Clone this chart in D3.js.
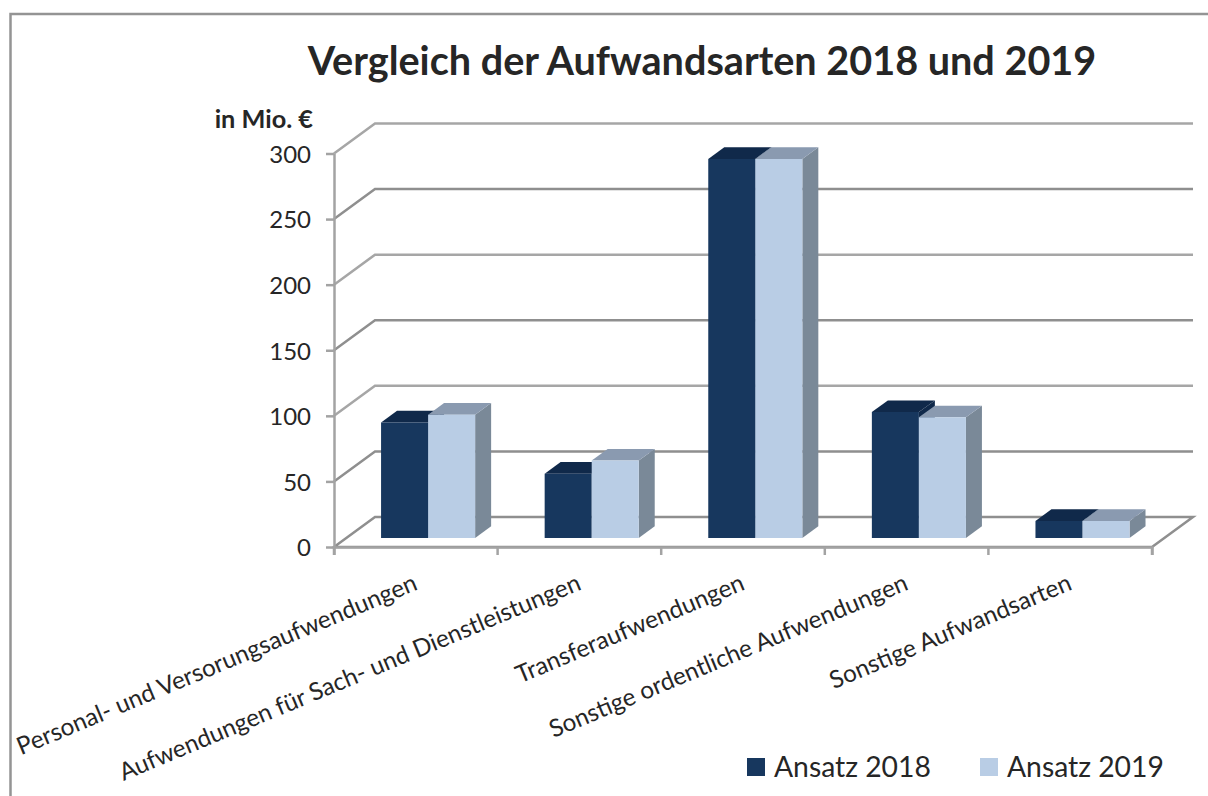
<!DOCTYPE html>
<html>

<head>
  <meta charset="utf-8">
  <title>Vergleich der Aufwandsarten 2018 und 2019</title>
  <script src="https://cdn.jsdelivr.net/npm/d3@7"></script>
  <style>
    body {
      margin: 0;
      background: #fff;
    }

    svg {
      display: block;
      font-family: Lato, "Open Sans", sans-serif;
    }

    text {
      fill: #262626;
    }

    .grid {
      fill: none;
      stroke: #a6a6a6;
      stroke-width: 2.5;
    }

    .grid.dark {
      stroke: #8f8f8f;
    }

    .axis path,
    .axis line {
      stroke: #a3a3a3;
      stroke-width: 2.5;
    }
  </style>
</head>

<body>
  <svg id="chart"></svg>

  <script>
    //"Versorungs..." is spelled this way in the original
    var categories = ['Personal- und Versorungsaufwendungen', 'Aufwendungen für Sach- und Dienstleistungen',
      'Transferaufwendungen', 'Sonstige ordentliche Aufwendungen', 'Sonstige Aufwandsarten'];
    var seriesNames = ['Ansatz 2018', 'Ansatz 2019'];
    var values2018 = [88, 49, 289, 96, 13];
    var values2019 = [94, 59, 289, 92, 13];
    var yTicks = [0, 50, 100, 150, 200, 250, 300];
    var darkGrid = [50, 150, 250];  //these lines look heavier in the scan

    var width = 1208, height = 796;
    var plotLeft = 334, plotRight = 1152, plotTop = 153.5, plotBottom = 547;
    var depthX = 41, depthY = -30;  //offset from front plane to back wall

    var front = ['#17375e', '#b9cde5'];
    var roof = ['#10294a', '#8a9ab0'];
    var side = ['#10294a', '#7a8998'];

    var svg = d3.select('#chart')
      .attr('width', width)
      .attr('height', height);

    //frame, open on the right and at the bottom
    svg.append('path')
      .attr('d', `M10.5,${height}V14H${width}`)
      .attr('fill', 'none')
      .attr('stroke', '#949494')
      .attr('stroke-width', 2.5);

    var x = d3.scaleBand()
      .domain(categories)
      .range([plotLeft, plotRight])
      .paddingInner(0.425)
      .paddingOuter(0.2125);

    var xSeries = d3.scaleBand()
      .domain(seriesNames)
      .range([0, x.bandwidth()]);

    var y = d3.scaleLinear()
      .domain([0, 300])
      .range([plotBottom, plotTop]);

    //project a point of the front plane to depth d (0 front, 1 back wall)
    var pt = (px, py, d) => [px + d * depthX, py + d * depthY];
    var poly = pts => 'M' + pts.join('L') + 'Z';

    //back wall lines, with their step out to the axis
    svg.selectAll('path.grid')
      .data(yTicks.slice(1))
      .enter()
      .append('path')
      .attr('class', d => darkGrid.includes(d) ? 'grid dark' : 'grid')
      .attr('d', d => 'M' + [pt(plotLeft, y(d), 0), pt(plotLeft, y(d), 1), pt(plotRight, y(d), 1)].join('L'));

    //floor
    svg.append('path')
      .attr('class', 'grid dark')
      .attr('d', poly([pt(plotLeft, plotBottom, 0), pt(plotRight, plotBottom, 0), pt(plotRight, plotBottom, 1), pt(plotLeft, plotBottom, 1)]));

    //axes
    var yAxis = svg.append('g')
      .attr('class', 'axis')
      .attr('transform', `translate(${plotLeft},0)`)
      .call(d3.axisLeft(y).tickValues(yTicks).tickSize(8).tickSizeOuter(0).tickPadding(15));
    yAxis.selectAll('text')
      .style('font-size', '24px')
      .style('font-family', 'Lato')
      .attr('dy', '0.37em');

    var xAxis = svg.append('g')
      .attr('class', 'axis')
      .attr('transform', `translate(0,${plotBottom})`)
      .call(d3.axisBottom(x).tickSize(0).tickSizeOuter(8).tickPadding(0));

    //ticks sit between the categories, not on them
    xAxis.selectAll('.tick line').remove();
    xAxis.selectAll('line.sep')
      .data(d3.range(categories.length + 1))
      .enter()
      .append('line')
      .attr('class', 'sep')
      .attr('x1', i => plotLeft + i * x.step())
      .attr('x2', i => plotLeft + i * x.step())
      .attr('y1', 0)
      .attr('y2', 8);

    xAxis.selectAll('.tick text')
      .style('font-size', '24.3px')
      .style('font-family', 'Lato')
      .attr('text-anchor', 'end')
      .attr('dy', null)
      .attr('y', null)
      .attr('transform', 'translate(3,42) rotate(-22.7)');

    //bars: series one first so the lighter series overlaps its roof
    var dFront = 0.3, dBack = 0.69;

    var barData = [];
    categories.forEach((c, i) => {
      barData.push({ cat: c, name: seriesNames[0], s: 0, value: values2018[i] });
    });
    categories.forEach((c, i) => {
      barData.push({ cat: c, name: seriesNames[1], s: 1, value: values2019[i] });
    });

    var bars = svg.selectAll('g.bar')
      .data(barData)
      .enter()
      .append('g')
      .attr('class', 'bar');

    function corners(d) {
      var x0 = x(d.cat) + xSeries(d.name), x1 = x0 + xSeries.bandwidth();
      return { x0: x0, x1: x1, yT: y(d.value), yB: y(0) };
    }

    bars.append('path')
      .attr('fill', d => side[d.s])
      .attr('d', d => {
        var c = corners(d);
        return poly([pt(c.x1, c.yT, dFront), pt(c.x1, c.yT, dBack), pt(c.x1, c.yB, dBack), pt(c.x1, c.yB, dFront)]);
      });

    bars.append('path')
      .attr('fill', d => roof[d.s])
      .attr('d', d => {
        var c = corners(d);
        return poly([pt(c.x0, c.yT, dFront), pt(c.x0, c.yT, dBack), pt(c.x1, c.yT, dBack), pt(c.x1, c.yT, dFront)]);
      });

    bars.append('path')
      .attr('fill', d => front[d.s])
      .attr('d', d => {
        var c = corners(d);
        return poly([pt(c.x0, c.yT, dFront), pt(c.x1, c.yT, dFront), pt(c.x1, c.yB, dFront), pt(c.x0, c.yB, dFront)]);
      });

    //title and unit
    svg.append('text')
      .attr('x', 702)
      .attr('y', 75)
      .attr('text-anchor', 'middle')
      .style('font-size', '39.6px')
      .style('font-weight', 700)
      .text('Vergleich der Aufwandsarten 2018 und 2019');

    svg.append('text')
      .attr('x', 313)
      .attr('y', 128)
      .attr('text-anchor', 'end')
      .style('font-size', '25.3px')
      .style('font-weight', 700)
      .text('in Mio. €');

    //legend
    var legend = svg.selectAll('g.legend')
      .data(seriesNames)
      .enter()
      .append('g')
      .attr('class', 'legend')
      .attr('transform', (d, i) => `translate(${747 + i * 233},758)`);

    legend.append('rect')
      .attr('width', 18)
      .attr('height', 18)
      .attr('fill', (d, i) => front[i]);

    legend.append('text')
      .attr('x', 27)
      .attr('y', 19)
      .style('font-size', '28.3px')
      .text(d => d);
  </script>
</body>

</html>
